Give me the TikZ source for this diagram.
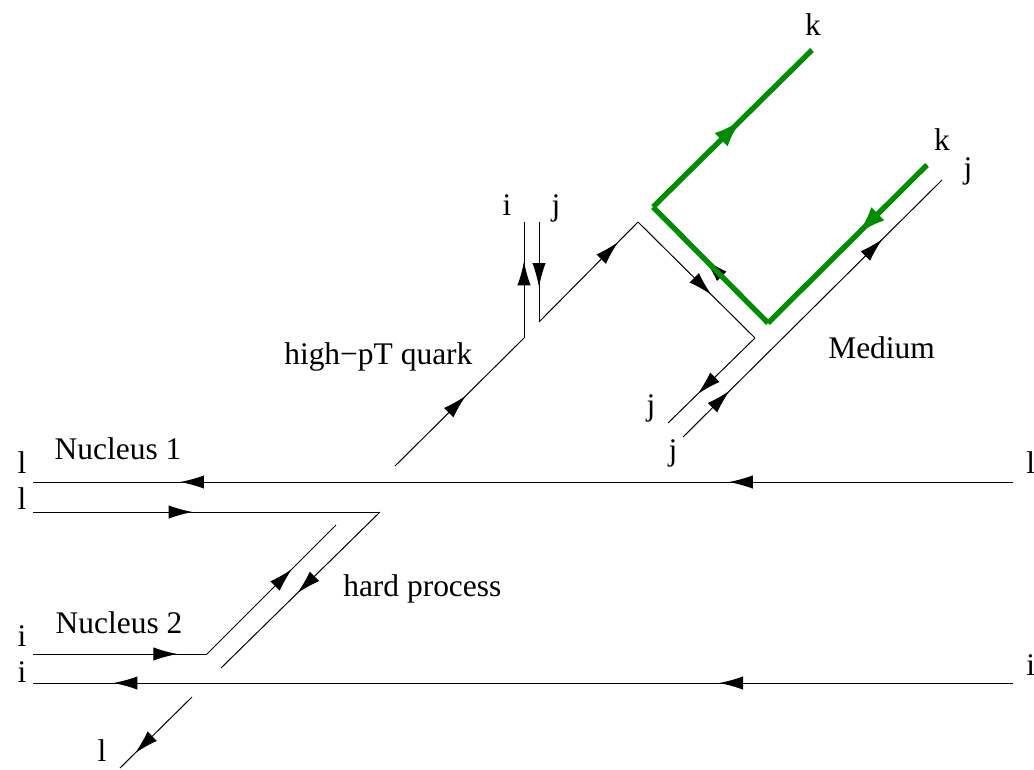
\documentclass[tikz,border=0pt]{standalone}
\usepackage{fontspec}
\setmainfont{Liberation Serif}
\usetikzlibrary{arrows.meta,decorations.markings}
\definecolor{qgreen}{RGB}{0,140,0}
\tikzset{
  blacktip/.tip={Latex[length=18pt,width=10pt]},
  greentip/.tip={Latex[length=22pt,width=14pt]},
  fa/.style={postaction={decorate,decoration={markings,mark=at position #1 with {\arrow{blacktip}}}}},
  ga/.style={postaction={decorate,decoration={markings,mark=at position #1 with {\arrow[qgreen]{greentip}}}}},
  thin line/.style={line width=0.75pt},
  gline/.style={draw=qgreen,line width=4pt,line join=miter},
  lab/.style={inner sep=0pt,anchor=base,font=\fontsize{23.6}{28}\selectfont},
}
\begin{document}
\begin{tikzpicture}[x=0.75pt,y=-0.75pt]
\useasboundingbox (0,0) rectangle (1034,769);
% coordinates
\coordinate (A1) at (1013,482); \coordinate (A2) at (33,482);
\coordinate (B1) at (33,512); \coordinate (B2) at (380,512); \coordinate (B3) at (221,668);
\coordinate (C1) at (336,525); \coordinate (C2) at (207,654); \coordinate (C3) at (33,654);
\coordinate (D1) at (1013,683); \coordinate (D2) at (33,683);
\coordinate (E1) at (192,697); \coordinate (E2) at (120,768);
\coordinate (Q1) at (395,466); \coordinate (Q2) at (524,338); \coordinate (Q3) at (524,222);
\coordinate (J1) at (539,222); \coordinate (J2) at (539,322); \coordinate (J3) at (638,222);
\coordinate (J4) at (755,338); \coordinate (J5) at (668,423);
\coordinate (M1) at (683,437); \coordinate (M2) at (942,180);
\coordinate (G1) at (927,165); \coordinate (G2) at (768,323); \coordinate (G3) at (653,207); \coordinate (G4) at (812,50);
% black lines
\draw[thin line,fa=0.29,fa=0.85] (A1) -- (A2);
\draw[thin line,fa=0.46] (B1) -- (B2);
\draw[thin line,fa=0.52] (B2) -- (B3);
\draw[thin line,fa=0.66] (C2) -- (C1);
\draw[thin line,fa=0.83] (C3) -- (C2);
\draw[thin line,fa=0.30,fa=0.918] (D1) -- (D2);
\draw[thin line,fa=0.79] (E1) -- (E2);
\draw[thin line,fa=0.55] (Q1) -- (Q2);
\draw[thin line,fa=0.66] (Q2) -- (Q3);
\draw[thin line,fa=0.65] (J1) -- (J2);
\draw[thin line,fa=0.8] (J2) -- (J3);
\draw[thin line,fa=0.63] (J3) -- (J4);
\draw[thin line,fa=0.66] (J4) -- (J5);
\draw[thin line,fa=0.18,fa=0.77] (M1) -- (M2);
% black tip under green line
\path[fa=0.55] (G2) -- (G3);
% green lines
\draw[gline,ga=0.44] (G1) -- (G2);
\draw[gline] (G2) -- (G3);
\draw[gline,ga=0.56] (G3) -- (G4);
% labels
\node[lab] (lA) at (22,473) {l};
\node[lab] (lB) at (22,509) {l};
\node[lab] (n1) at (118,459) {Nucleus 1};
\node[lab] (iC) at (22,646) {i};
\node[lab] (iD) at (22,682) {i};
\node[lab] (n2) at (119,633) {Nucleus 2};
\node[lab] (lE) at (102,761) {l};
\node[lab,anchor=base west] (hp) at (343,596) {hard process};
\node[lab,anchor=base west] (hq) at (284,364) {high−pT quark};
\node[lab,anchor=base west] (med) at (828,358) {Medium};
\node[lab] (iT) at (507,215) {i};
\node[lab] (jT) at (556,215) {j};
\node[lab] (jL1) at (651,415) {j};
\node[lab] (jL2) at (673,460) {j};
\node[lab] (jR) at (968,178) {j};
\node[lab] (kR) at (942,150) {k};
\node[lab] (kT) at (813,35) {k};
\node[lab,anchor=base west] (lR) at (1026,473) {l};
\node[lab,anchor=base west] (iR) at (1026,675) {i};
\end{tikzpicture}
\end{document}
